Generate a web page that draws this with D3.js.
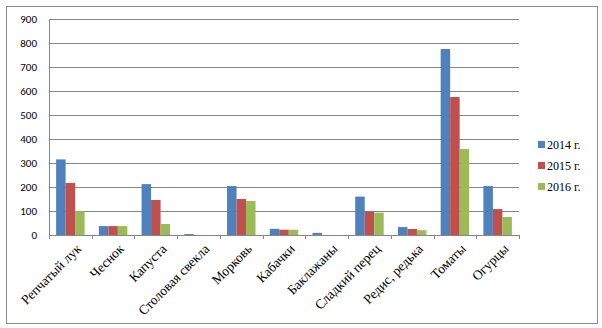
<!DOCTYPE html>
<html>
<head>
<meta charset="utf-8">
<title>Chart</title>
<script src="https://d3js.org/d3.v7.min.js"></script>
<style>
  body { margin: 0; background: #fff; }
</style>
</head>
<body>
<svg width="602" height="328"></svg>
<script>
// категории и значения по годам
const categories = ["Репчатый лук", "Чеснок", "Капуста", "Столовая свекла", "Морковь", "Кабачки",
                    "Баклажаны", "Сладкий перец", "Редис, редька", "Томаты", "Огурцы"];
const years = ["2014 г.", "2015 г.", "2016 г."];
const v2014 = [315, 37, 212, 4, 204, 26, 9, 160, 33, 775, 204];
const v2015 = [217, 37, 146, 0, 150, 22, 0, 98, 25, 575, 108];
const v2016 = [99, 37, 46, 0, 142, 22, 0, 93, 20, 358, 75];
const yTicks = [0, 100, 200, 300, 400, 500, 600, 700, 800, 900];

const colors = ["#4F81BD", "#C0504D", "#9BBB59"];
const series = [v2014, v2015, v2016];

const svg = d3.select("svg");

// рамка
svg.append("rect")
    .attr("x", 6.5).attr("y", 6.5)
    .attr("width", 591).attr("height", 317)
    .attr("fill", "#fff")
    .attr("stroke", "#8c8c8c");

const plot = {left: 49, right: 519, top: 19, bottom: 235};

const x = d3.scaleBand().domain(categories).range([plot.left, plot.right]).paddingInner(0).paddingOuter(0);
const y = d3.scaleLinear().domain([0, 900]).range([plot.bottom, plot.top]);
const gap = 1.5;
const barW = x.bandwidth() / (3 + gap);

// сетка
svg.append("g")
    .selectAll("line")
    .data(yTicks.slice(1))
    .enter()
    .append("line")
    .attr("x1", plot.left).attr("x2", plot.right)
    .attr("y1", d => Math.round(y(d)) + 0.5).attr("y2", d => Math.round(y(d)) + 0.5)
    .attr("stroke", "#868686");

// подписи оси Y
svg.append("g")
    .selectAll("text")
    .data(yTicks)
    .enter()
    .append("text")
    .attr("x", 37)
    .attr("y", d => y(d) + 4)
    .attr("text-anchor", "end")
    .attr("font-family", "Carlito, 'Liberation Sans', Arial, sans-serif")
    .attr("font-size", 11)
    .attr("fill", "#000")
    .text(d => d);

// столбики
series.forEach(function (vals, s) {
    svg.append("g")
        .selectAll("rect")
        .data(vals)
        .enter()
        .append("rect")
        .attr("x", (d, i) => x(categories[i]) + barW * gap / 2 + s * barW)
        .attr("y", d => y(d))
        .attr("width", barW)
        .attr("height", d => y(0) - y(d))
        .attr("fill", colors[s]);
});

// оси
svg.append("line")
    .attr("x1", plot.left + 0.5).attr("x2", plot.left + 0.5)
    .attr("y1", plot.top).attr("y2", plot.bottom)
    .attr("stroke", "#868686");
svg.append("line")
    .attr("x1", plot.left).attr("x2", plot.right)
    .attr("y1", plot.bottom + 0.5).attr("y2", plot.bottom + 0.5)
    .attr("stroke", "#868686");

// деления по X
svg.append("g")
    .selectAll("line")
    .data(categories.concat(["end"]))
    .enter()
    .append("line")
    .attr("x1", (d, i) => Math.round(plot.left + i * x.bandwidth()) + 0.5)
    .attr("x2", (d, i) => Math.round(plot.left + i * x.bandwidth()) + 0.5)
    .attr("y1", plot.bottom).attr("y2", plot.bottom + 4)
    .attr("stroke", "#868686");

// подписи категорий
svg.append("g")
    .selectAll("text")
    .data(categories)
    .enter()
    .append("text")
    .attr("transform", d => "translate(" + (x(d) + x.bandwidth() / 2 + 5) + "," + (plot.bottom + 8) + ") rotate(-45)")
    .attr("text-anchor", "end")
    .attr("dy", "0.7em")
    .attr("font-family", "'Liberation Serif', 'Times New Roman', serif")
    .attr("font-size", 13.5)
    .attr("fill", "#000")
    .text(d => d);

// легенда
const legend = svg.append("g")
    .selectAll("g")
    .data(years)
    .enter()
    .append("g")
    .attr("transform", (d, i) => "translate(538," + (141 + i * 21) + ")");
legend.append("rect")
    .attr("width", 7).attr("height", 7)
    .attr("fill", (d, i) => colors[i]);
legend.append("text")
    .attr("x", 9).attr("y", 8)
    .attr("font-family", "'Liberation Serif', 'Times New Roman', serif")
    .attr("font-size", 12)
    .attr("fill", "#000")
    .text(d => d);
</script>
</body>
</html>
